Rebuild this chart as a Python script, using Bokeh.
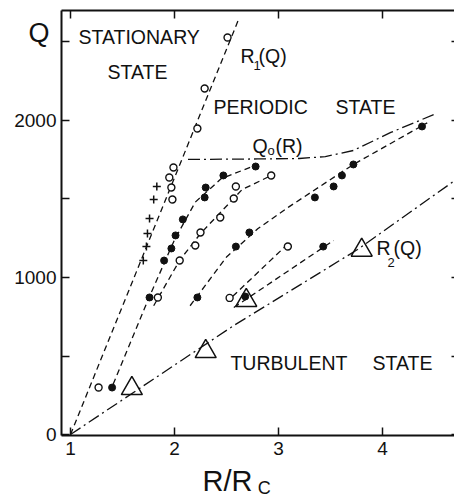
from bokeh.plotting import figure
from bokeh.models import Range1d, LinearAxis, FixedTicker, Label
from bokeh.embed import file_html
from bokeh.resources import INLINE

# ---- data ----
# boundary curves
r1_line_x = [1.0, 2.62]
r1_line_y = [0, 2650]
q0_line_x = [2.13, 2.8, 3.2, 3.45, 3.72, 4.08, 4.52]
q0_line_y = [1752, 1755, 1758, 1770, 1809, 1924, 2045]
r2_line_x = [1.0, 2.57, 3.76, 4.70]
r2_line_y = [0, 694, 1178, 1620]

# open circles on R1(Q)
r1_pts_x = [1.27, 1.98, 1.97, 1.95, 1.99, 2.22, 2.29, 2.51]
r1_pts_y = [299, 1497, 1573, 1637, 1701, 1949, 2204, 2529]
# crosses
plus_x = [1.83, 1.80, 1.76, 1.74, 1.73, 1.70]
plus_y = [1580, 1497, 1376, 1280, 1197, 1108]
# triangles on R2(Q)
tri_x = [1.59, 2.30, 2.69, 3.80]
tri_y = [293, 529, 854, 1174]

# series A (filled)
a_x = [1.40, 1.76, 1.90, 1.97, 2.01, 2.08, 2.29, 2.30, 2.47, 2.78]
a_y = [299, 873, 1108, 1185, 1268, 1370, 1510, 1573, 1650, 1707]
a_line_x = [1.41, 1.76, 2.0, 2.2, 2.45, 2.8]
a_line_y = [320, 880, 1240, 1480, 1630, 1720]
# series B (open)
b_x = [1.84, 2.05, 2.20, 2.25, 2.44, 2.57, 2.59, 2.93]
b_y = [873, 1108, 1204, 1287, 1382, 1503, 1580, 1650]
b_line_x = [1.80, 2.05, 2.25, 2.45, 2.65, 2.90]
b_line_y = [820, 1110, 1280, 1420, 1560, 1640]
# series C (filled)
c_x = [2.22, 2.59, 2.72, 3.35, 3.53, 3.61, 3.72, 4.38]
c_y = [873, 1197, 1287, 1510, 1580, 1650, 1720, 1962]
c_line_x = [2.15, 2.5, 2.8, 3.1, 3.72, 4.43]
c_line_y = [820, 1130, 1310, 1450, 1720, 1985]
# series D (open)
d_x = [2.53, 3.09]
d_y = [870, 1197]
d_line_x = [2.56, 3.06]
d_line_y = [880, 1195]
# series E (filled)
e_x = [2.68, 3.43]
e_y = [879, 1197]
e_line_x = [2.57, 3.53]
e_line_y = [809, 1236]

x_ticks = [1, 2, 3, 4]
y_label_ticks = [0, 1000, 2000]
y_unlabelled_ticks = [500, 1500, 2500]
y_all_ticks = [0, 500, 1000, 1500, 2000, 2500]

# axes box (data units)
X0, X1 = 0.9135, 4.69
Y0, Y1 = -4.0, 2700.6

FONT = "Liberation Sans"
INK = "#111111"

p = figure(width=454, height=498, output_backend="svg", toolbar_location=None,
           x_range=Range1d(0.3269, 4.6923), y_range=Range1d(-407.6, 2764.3),
           x_axis_location=None, y_axis_location=None,
           min_border_left=0, min_border_right=0, min_border_top=0,
           min_border_bottom=0)
p.outline_line_color = None
p.grid.visible = False
p.background_fill_color = "white"
p.border_fill_color = "white"


def style_axis(ax, tick_len=8):
    ax.axis_line_width = 2
    ax.axis_line_color = INK
    ax.major_tick_in = tick_len
    ax.major_tick_out = 0
    ax.minor_tick_in = tick_len
    ax.minor_tick_out = 0
    ax.major_tick_line_width = 1.5
    ax.minor_tick_line_width = 1.5
    ax.major_tick_line_color = INK
    ax.minor_tick_line_color = INK
    ax.major_label_text_font = FONT
    ax.major_label_text_color = INK
    ax.major_label_text_font_size = "19px"


bottom = LinearAxis(ticker=FixedTicker(ticks=x_ticks), fixed_location=Y0,
                    bounds=(X0, X1))
style_axis(bottom)
bottom.major_label_standoff = 7
p.add_layout(bottom, "below")

left = LinearAxis(ticker=FixedTicker(ticks=y_label_ticks,
                                     minor_ticks=y_unlabelled_ticks),
                  fixed_location=X0, bounds=(Y0, Y1))
style_axis(left)
left.major_label_standoff = 5
p.add_layout(left, "left")

top = LinearAxis(ticker=FixedTicker(ticks=[], minor_ticks=x_ticks),
                 fixed_location=Y1, bounds=(X0, X1))
style_axis(top)
p.add_layout(top, "above")

right = LinearAxis(ticker=FixedTicker(ticks=[], minor_ticks=y_all_ticks),
                   fixed_location=X1, bounds=(Y0, Y1))
style_axis(right, tick_len=3)
right.axis_line_alpha = 0
p.add_layout(right, "right")

DASH = "6 4"
DASHDOT = "12 4 2 4"
LW = 1.3

p.line(r1_line_x, r1_line_y, line_dash=DASH, line_width=LW, color=INK)
p.line(q0_line_x, q0_line_y, line_dash=DASHDOT, line_width=LW, color=INK)
p.line(r2_line_x, r2_line_y, line_dash=DASHDOT, line_width=LW, color=INK)
for lx, ly in [(a_line_x, a_line_y), (b_line_x, b_line_y), (c_line_x, c_line_y),
               (d_line_x, d_line_y), (e_line_x, e_line_y)]:
    p.line(lx, ly, line_dash=DASH, line_width=LW, color=INK)

p.scatter(tri_x, tri_y, marker="triangle", size=21, fill_color=None,
          line_color=INK, line_width=1.5)
for sx, sy in [(r1_pts_x, r1_pts_y), (b_x, b_y), (d_x, d_y)]:
    p.scatter(sx, sy, marker="circle", size=7, fill_color="white",
              line_color=INK, line_width=1.4)
for sx, sy in [(a_x, a_y), (c_x, c_y), (e_x, e_y)]:
    p.scatter(sx, sy, marker="circle", size=7, fill_color=INK, line_color=INK)
p.scatter(plus_x, plus_y, marker="cross", size=8, line_color=INK, line_width=1.5)


def lab(x, y, t, size=19.5):
    p.add_layout(Label(x=x, y=y, text=t, text_font=FONT,
                       text_font_size=f"{size}px", text_color=INK,
                       text_align="left", text_baseline="middle"))


lab(0.596, 2557, "Q", 27)
lab(1.077, 2532, "STATIONARY")
lab(1.356, 2306, "STATE")
lab(2.635, 2408, "R")
lab(2.760, 2350, "1", 13)
lab(2.808, 2408, "(Q)")
lab(2.375, 2086, "PERIODIC")
lab(3.548, 2086, "STATE")
lab(2.750, 1838, "Q")
lab(2.894, 1810, "o", 13)
lab(2.971, 1838, "(R)")
lab(3.942, 1185, "R")
lab(4.048, 1096, "2", 13)
lab(4.106, 1185, "(Q)")
lab(2.538, 455, "TURBULENT")
lab(3.904, 455, "STATE")
lab(2.269, -299, "R/R", 29)
lab(2.800, -338, "C", 18)

open("out.html", "w").write(file_html(p, INLINE))
